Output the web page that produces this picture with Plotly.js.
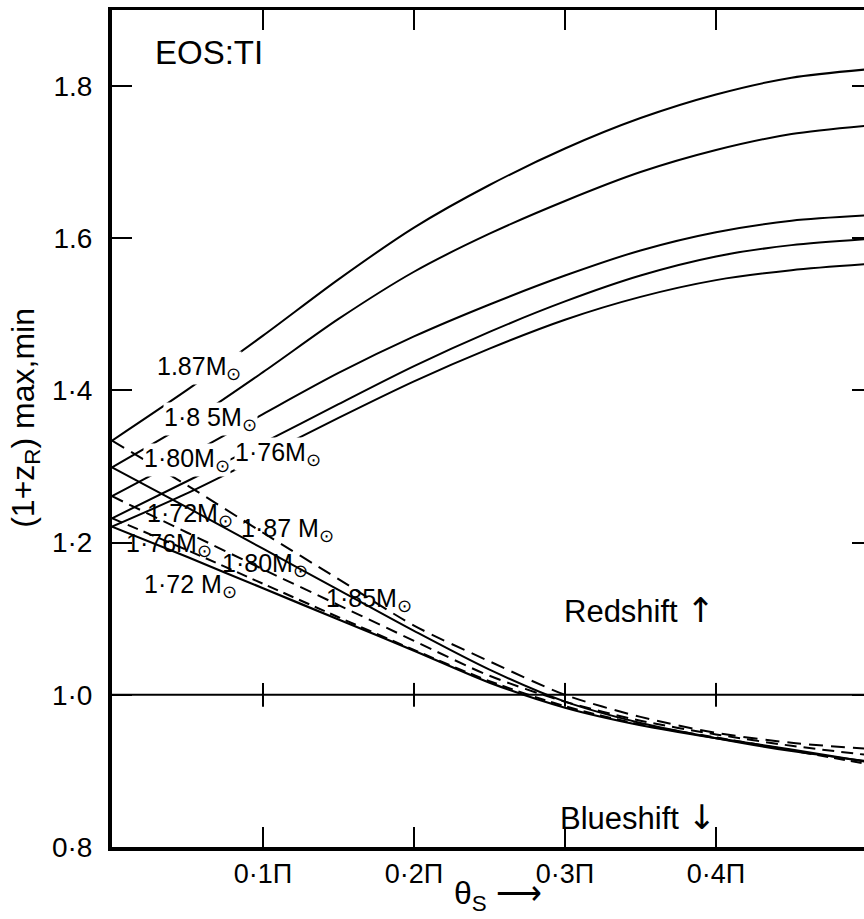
<!DOCTYPE html>
<html>
<head>
<meta charset="utf-8">
<script src="https://cdn.plot.ly/plotly-3.0.1.min.js"></script>
<style>html,body{margin:0;padding:0;background:#fff;overflow:hidden}#chart{width:864px;height:919px}</style>
</head>
<body>
<div id="chart"></div>
<script>
// theta_S in units of pi
const theta = [0, 0.05, 0.10, 0.15, 0.20, 0.25, 0.30, 0.35, 0.40, 0.45, 0.50];

// maximum redshift (upper, solid) curves
const upper172 = [1.221, 1.265, 1.314, 1.364, 1.412, 1.455, 1.493, 1.523, 1.545, 1.558, 1.566];
const upper176 = [1.232, 1.281, 1.331, 1.382, 1.432, 1.477, 1.517, 1.551, 1.576, 1.591, 1.599];
const upper180 = [1.261, 1.314, 1.369, 1.423, 1.471, 1.513, 1.551, 1.584, 1.608, 1.623, 1.630];
const upper185 = [1.299, 1.357, 1.424, 1.494, 1.556, 1.606, 1.649, 1.687, 1.716, 1.737, 1.748];
const upper187 = [1.334, 1.401, 1.472, 1.546, 1.614, 1.670, 1.718, 1.758, 1.789, 1.811, 1.822];

// minimum redshift (lower) curves
const lower172 = [1.221, 1.181, 1.140, 1.099, 1.058, 1.016, 0.983, 0.960, 0.943, 0.928, 0.912];
const lower176 = [1.232, 1.190, 1.146, 1.102, 1.059, 1.018, 0.985, 0.961, 0.944, 0.927, 0.909];
const lower180 = [1.261, 1.213, 1.165, 1.118, 1.071, 1.025, 0.991, 0.966, 0.948, 0.933, 0.921];
const lower185 = [1.299, 1.246, 1.192, 1.138, 1.084, 1.033, 0.991, 0.963, 0.943, 0.926, 0.913];
const lower187 = [1.334, 1.275, 1.213, 1.152, 1.091, 1.044, 1.000, 0.971, 0.950, 0.937, 0.929];

// reference line 1+z = 1
const refX = [0, 0.5];
const refY = [1, 1];
const refTickX = [0.1, 0.2, 0.3, 0.4];
const refTickY = [1, 1, 1, 1];

// axis ticks
const yTickVals = [0.8, 1.0, 1.2, 1.4, 1.6, 1.8];
const yTickText = ['0·8', '1·0', '1·2', '1·4', '1.6', '1.8'];
const xTickVals = [0.1, 0.2, 0.3, 0.4];
const xTickText = ['0·1Π', '0·2Π', '0·3Π', '0·4Π'];

// curve label texts
const labUp187 = '1.87M<sub>⊙</sub>';
const labUp185 = '1·8 5M<sub>⊙</sub>';
const labUp180 = '1·80M<sub>⊙</sub>';
const labUp176 = '1·76M<sub>⊙</sub>';
const labUp172 = '1·72M<sub>⊙</sub>';
const labLo187 = '1·87 M<sub>⊙</sub>';
const labLo176 = '1·76M<sub>⊙</sub>';
const labLo180 = '1·80M<sub>⊙</sub>';
const labLo172 = '1·72 M<sub>⊙</sub>';
const labLo185 = '1·85M<sub>⊙</sub>';

const FONT = 'Liberation Sans, Arial, sans-serif';
const K = '#000';
const ARROW = 'font-family:DejaVu Sans;font-size:34px';

function curve(y, dash, w) {
  return {x: theta, y: y, mode: 'lines', type: 'scatter', hoverinfo: 'skip',
          line: {color: K, width: w || 2, dash: dash || 'solid', shape: 'spline', smoothing: 0.8},
          showlegend: false};
}

const traces = [
  curve(upper172), curve(upper176), curve(upper180), curve(upper185), curve(upper187),
  curve(lower172, 'solid', 2.2),
  curve(lower176, '11px,6px'),
  curve(lower180, '12px,7px'),
  curve(lower185, 'solid'),
  curve(lower187, '14px,8px'),
  {x: refX, y: refY, mode: 'lines', type: 'scatter', yaxis: 'y2', hoverinfo: 'skip',
   line: {color: K, width: 2}, showlegend: false},
  {x: refTickX, y: refTickY, mode: 'markers', type: 'scatter', yaxis: 'y2', hoverinfo: 'skip',
   marker: {symbol: 'line-ns', size: 17, line: {color: K, width: 2}}, showlegend: false}
];

function lab(text, x, y, bg) {
  return {x: x, y: y, xref: 'x', yref: 'y', text: text, showarrow: false,
          xanchor: 'center', yanchor: 'middle',
          font: {family: FONT, size: 25, color: K},
          bgcolor: bg ? '#fff' : 'rgba(0,0,0,0)', borderpad: 0};
}

function ptxt(text, x, y, size, angle) {
  return {x: x, y: y, xref: 'paper', yref: 'paper', text: text, showarrow: false,
          xanchor: 'center', yanchor: 'middle', textangle: angle || 0,
          font: {family: FONT, size: size, color: K}};
}

const annotations = [
  lab(labUp187, 0.0576, 1.430, true),
  lab(labUp185, 0.0649, 1.363, true),
  lab(labUp180, 0.0497, 1.309, true),
  lab(labUp176, 0.110, 1.316, true),
  lab(labUp172, 0.0517, 1.236, false),
  lab(labLo187, 0.116, 1.216, false),
  lab(labLo176, 0.0377, 1.197, false),
  lab(labLo180, 0.101, 1.170, false),
  lab(labLo172, 0.0523, 1.143, false),
  lab(labLo185, 0.170, 1.124, false),
  ptxt('EOS:TI', 0.129, 0.949, 33),
  ptxt('Redshift <span style="' + ARROW + '">↑</span>', 0.701, 0.283, 31),
  ptxt('Blueshift <span style="' + ARROW + '">↓</span>', 0.700, 0.036, 31),
  ptxt('θ<sub>S</sub> ⟶', 0.513, -0.0585, 32),
  ptxt('(1+z<sub>R</sub>) max,min', -0.116, 0.5125, 32, -90)
];

const layout = {
  width: 864, height: 919,
  margin: {l: 112, r: 0, t: 10, b: 72},
  paper_bgcolor: '#fff', plot_bgcolor: '#fff',
  showlegend: false,
  font: {family: FONT, color: K},
  xaxis: {range: [0, 0.498], tickmode: 'array', tickvals: xTickVals, ticktext: xTickText,
          ticks: 'inside', ticklen: 20, tickwidth: 2, tickcolor: K,
          showline: true, linewidth: 3.5, linecolor: K, mirror: 'ticks',
          showgrid: false, zeroline: false, tickfont: {family: FONT, size: 27, color: K},
          ticklabelstandoff: 0},
  yaxis: {range: [0.8, 1.9], tickmode: 'array', tickvals: yTickVals, ticktext: yTickText,
          ticks: 'inside', ticklen: 20, tickwidth: 2, tickcolor: K,
          showline: true, linewidth: 4, linecolor: K, mirror: false,
          showgrid: false, zeroline: false, tickfont: {family: FONT, size: 28, color: K},
          ticklabelstandoff: 10},
  yaxis2: {range: [0.8, 1.9], overlaying: 'y', side: 'right', tickmode: 'array', tickvals: yTickVals,
           ticks: 'inside', ticklen: 12, tickwidth: 2, tickcolor: K,
           showticklabels: false, showline: false, showgrid: false, zeroline: false},
  annotations: annotations
};

Plotly.newPlot('chart', traces, layout, {displayModeBar: false, staticPlot: true});
</script>
</body>
</html>
